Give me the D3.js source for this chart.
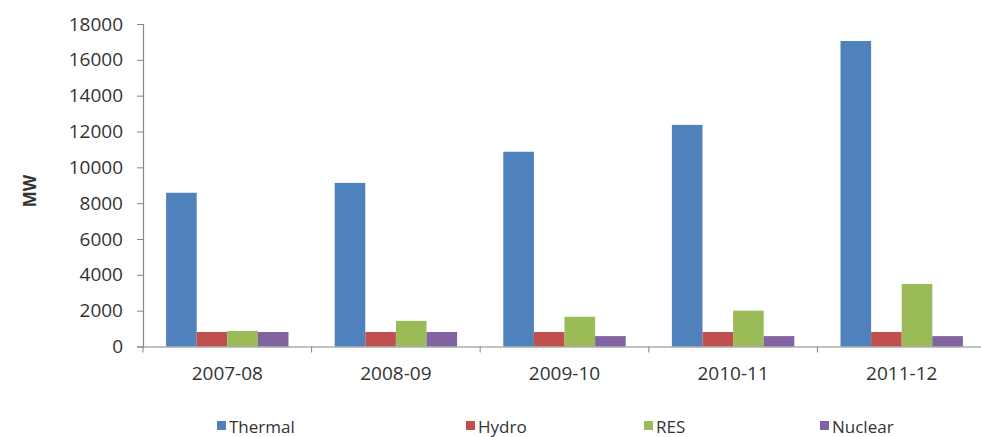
<!DOCTYPE html>
<html>
<head>
<meta charset="utf-8">
<script src="https://cdn.jsdelivr.net/npm/d3@7"></script>
<style>
  html, body { margin: 0; padding: 0; background: #fff; overflow: hidden; }
  svg { display: block; }
  text { font-family: "Open Sans", "Noto Sans", sans-serif; fill: #333; }
</style>
</head>
<body>
<svg id="chart" width="981" height="437"></svg>
<script>
// Capacity additions by source (MW), per fiscal year
const years = ["2007-08", "2008-09", "2009-10", "2010-11", "2011-12"];
const seriesNames = ["Thermal", "Hydro", "RES", "Nuclear"];
const thermal = [8580, 9130, 10870, 12370, 17050];
const hydro   = [810, 810, 810, 810, 810];
const res     = [870, 1430, 1660, 2000, 3490];
const nuclear = [810, 810, 580, 580, 580];
const yTicks  = [0, 2000, 4000, 6000, 8000, 10000, 12000, 14000, 16000, 18000];
const yLabel  = "MW";

const seriesValues = [thermal, hydro, res, nuclear];
const colors = ["#4F81BD", "#C0504D", "#9BBB59", "#8064A2"];

const svg = d3.select("#chart");
const plot = { left: 143, right: 986, top: 24, bottom: 346.5 };

const x0 = d3.scaleBand()
  .domain(years)
  .range([plot.left, plot.right])
  .paddingInner(0.274)
  .paddingOuter(0.137);

const x1 = d3.scaleBand()
  .domain(seriesNames)
  .range([0, x0.bandwidth()])
  .padding(0);

const y = d3.scaleLinear()
  .domain([0, 18000])
  .range([plot.bottom, plot.top]);

const color = d3.scaleOrdinal().domain(seriesNames).range(colors);

// Bars
const rows = years.map((yr, i) => ({
  year: yr,
  values: seriesNames.map((s, j) => ({ key: s, value: seriesValues[j][i] }))
}));

svg.append("g")
  .selectAll("g")
  .data(rows)
  .join("g")
    .attr("transform", d => `translate(${x0(d.year)},0)`)
  .selectAll("rect")
  .data(d => d.values)
  .join("rect")
    .attr("x", d => x1(d.key))
    .attr("y", d => y(d.value))
    .attr("width", x1.bandwidth())
    .attr("height", d => y(0) - y(d.value))
    .attr("fill", d => color(d.key));

// Y axis
const yAxis = svg.append("g")
  .attr("transform", `translate(${plot.left},0)`)
  .call(d3.axisLeft(y).tickValues(yTicks).tickFormat(d3.format("d")).tickSize(6).tickPadding(14));
yAxis.select(".domain").attr("stroke", "#868686").attr("stroke-width", 1.2);
yAxis.selectAll(".tick line").attr("stroke", "#868686");
yAxis.selectAll(".tick text")
  .style("font-size", "19px")
  .attr("fill", "#2b2b2b");

// X axis with category-boundary tick marks
const xAxis = svg.append("g")
  .attr("transform", `translate(0,${plot.bottom})`)
  .call(d3.axisBottom(x0).tickSize(0).tickPadding(20));
xAxis.select(".domain").attr("stroke", "#868686").attr("stroke-width", 1.2);
xAxis.selectAll(".tick text")
  .style("font-size", "19px")
  .attr("fill", "#2b2b2b");

const step = x0.step();
const boundaries = d3.range(years.length + 1).map(i => plot.left + i * step);
xAxis.append("g")
  .selectAll("line")
  .data(boundaries)
  .join("line")
    .attr("x1", d => d).attr("x2", d => d)
    .attr("y1", 0).attr("y2", 6)
    .attr("stroke", "#868686");

// Y axis title
svg.append("text")
  .attr("transform", `translate(29,191) rotate(-90)`)
  .attr("text-anchor", "middle")
  .attr("dominant-baseline", "central")
  .style("font-size", "17px")
  .style("font-weight", "bold")
  .attr("fill", "#111")
  .text(yLabel);

// Legend
const legendX = [217, 466, 644, 820];
const legend = svg.append("g")
  .selectAll("g")
  .data(seriesNames)
  .join("g")
    .attr("transform", (d, i) => `translate(${legendX[i]},426)`);
legend.append("rect")
  .attr("x", 0).attr("y", -5)
  .attr("width", 9).attr("height", 9)
  .attr("fill", d => color(d));
legend.append("text")
  .attr("x", 12)
  .attr("y", 0)
  .attr("dominant-baseline", "central")
  .style("font-size", "17px")
  .attr("fill", "#2b2b2b")
  .text(d => d);
</script>
</body>
</html>
